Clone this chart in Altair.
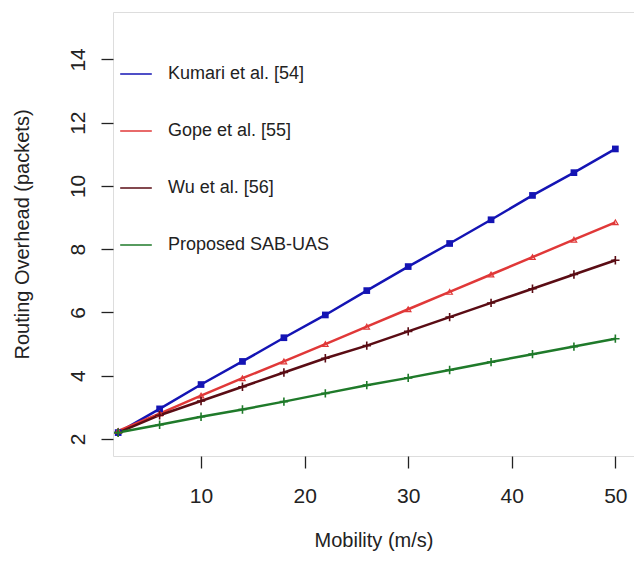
import altair as alt
import pandas as pd

mobility = [2, 6, 10, 14, 18, 22, 26, 30, 34, 38, 42, 46, 50]
series_names = ["Kumari et al. [54]", "Gope et al. [55]", "Wu et al. [56]", "Proposed SAB-UAS"]
kumari = [2.2, 2.95, 3.72, 4.45, 5.2, 5.92, 6.69, 7.45, 8.18, 8.93, 9.7, 10.42, 11.17]
gope = [2.25, 2.8, 3.37, 3.92, 4.45, 5.0, 5.55, 6.1, 6.65, 7.2, 7.75, 8.3, 8.85]
wu = [2.2, 2.75, 3.2, 3.65, 4.1, 4.55, 4.95, 5.4, 5.85, 6.3, 6.75, 7.2, 7.65]
proposed = [2.2, 2.45, 2.7, 2.93, 3.18, 3.44, 3.7, 3.93, 4.18, 4.43, 4.68, 4.92, 5.17]
colors = ["#1414b4", "#e03838", "#5a0c14", "#1f7a2a"]
x_ticks = [10, 20, 30, 40, 50]
y_ticks = [2, 4, 6, 8, 10, 12, 14]

rows = []
for name, vals in zip(series_names, [kumari, gope, wu, proposed]):
    for m, v in zip(mobility, vals):
        rows.append({"Mobility": m, "Overhead": v, "Scheme": name})
df = pd.DataFrame(rows)

FONT = "Liberation Sans"

x = alt.X("Mobility:Q", scale=alt.Scale(domain=[1.5, 51.8], nice=False, zero=False),
          axis=alt.Axis(title="Mobility (m/s)", values=x_ticks, grid=False, domain=False,
                        tickSize=12, tickColor="#222", tickWidth=1.3,
                        labelFontSize=21, labelFont=FONT, labelColor="#222", labelPadding=17,
                        titleFontSize=20, titleFont=FONT, titleColor="#222", titleFontWeight="normal",
                        titleBaseline="alphabetic", titleY=90))
y = alt.Y("Overhead:Q", scale=alt.Scale(domain=[1.46, 15.5], nice=False, zero=False),
          axis=alt.Axis(title="Routing Overhead (packets)", values=y_ticks, grid=False, domain=False,
                        tickSize=12, tickColor="#222", tickWidth=1.3,
                        labelFontSize=21, labelFont=FONT, labelColor="#222", labelAngle=270,
                        labelAlign="center", labelBaseline="alphabetic", labelPadding=17,
                        titleFontSize=20, titleFont=FONT, titleColor="#222", titleFontWeight="normal",
                        titleBaseline="alphabetic", titleX=-85))
color = alt.Color("Scheme:N", scale=alt.Scale(domain=series_names, range=colors),
                  legend=alt.Legend(title=None, orient="none", legendX=6, legendY=45,
                                    symbolType="stroke", symbolSize=1000, symbolStrokeWidth=1.5,
                                    labelFontSize=18, labelFont=FONT, labelColor="#222",
                                    labelLimit=0, labelOffset=15, rowPadding=31))

base = alt.Chart(df).encode(x=x, y=y, color=color)
lines = base.mark_line(strokeWidth=2.5)
sq = base.transform_filter(alt.datum.Scheme == series_names[0]).mark_point(
    shape="square", filled=True, size=45, opacity=1)
tri = base.transform_filter(alt.datum.Scheme == series_names[1]).mark_point(
    shape="triangle-up", filled=False, size=30, strokeWidth=1.2, opacity=1)
plus = base.transform_filter(
    (alt.datum.Scheme == series_names[2]) | (alt.datum.Scheme == series_names[3])).mark_point(
    shape="M-1,0L1,0M0,-1L0,1", filled=False, size=70, strokeWidth=1.6, opacity=1)

chart = (lines + sq + tri + plus).properties(
    width=521, height=444,
    autosize=alt.AutoSizeParams(type="none"),
    padding={"left": 105, "top": 4, "right": 0, "bottom": 97},
).configure_view(stroke="#222", strokeWidth=1.6).configure(background="white")

chart.save("out.html", embed_options={"renderer": "svg", "actions": False})
